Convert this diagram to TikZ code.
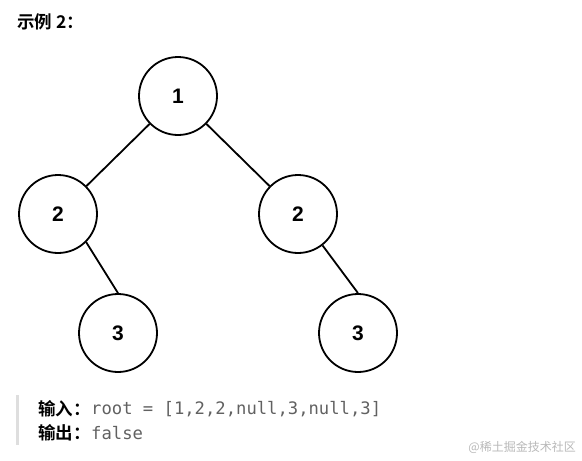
\documentclass[tikz,border=0pt]{standalone}
\usepackage{fontspec}
\setmainfont{Liberation Sans}
\newfontfamily\cjk{Noto Sans CJK SC}
\newfontfamily\cjkb{Noto Sans CJK SC Bold}
\setmonofont{DejaVu Sans Mono}
\begin{document}
\begin{tikzpicture}[x=1pt,y=-1pt,
  tnode/.style={circle,draw,line width=1.8pt,minimum size=78pt,inner sep=0pt,font=\fontsize{21}{24}\selectfont\bfseries},
  edge/.style={line width=1.8pt},
  lbl/.style={anchor=west,inner sep=0pt}]
\useasboundingbox (0,0) rectangle (582,461);
\node[lbl] (title) at (17,22) {\fontsize{17.5}{20}\selectfont\cjkb 示例 2：};
\node[tnode] (n1) at (178,96) {1};
\node[tnode] (l2) at (58,214) {2};
\node[tnode] (r2) at (298,214) {2};
\node[tnode] (l3) at (118,333) {3};
\node[tnode] (r3) at (358,333) {3};
\draw[edge] (n1) -- (l2);
\draw[edge] (n1) -- (r2);
\draw[edge] (l2.-45) -- (l3.north);
\draw[edge] (r2.-52) -- (r3.north);
\fill[black!13] (16,395) rectangle (18.5,445);
\node[lbl] (in) at (38,409) {\fontsize{17.5}{20}\selectfont\cjkb 输入：};
\node[lbl,text=black!62] (inv) at (91,409) {\fontsize{17.2}{20}\selectfont\ttfamily root = [1,2,2,null,3,null,3]};
\node[lbl] (out) at (38,433) {\fontsize{17.5}{20}\selectfont\cjkb 输出：};
\node[lbl,text=black!62] (outv) at (91,433) {\fontsize{17.2}{20}\selectfont\ttfamily false};
\node[anchor=east,inner sep=0pt,text=black!28] (wm) at (576,447) {\fontsize{12}{14}\selectfont\cjk @稀土掘金技术社区};
\end{tikzpicture}
\end{document}
